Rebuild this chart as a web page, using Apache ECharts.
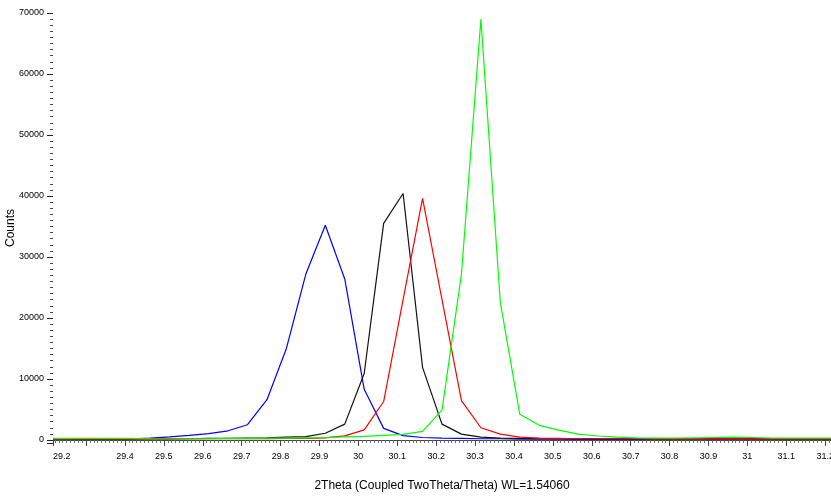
<!DOCTYPE html>
<html>
<head>
<meta charset="utf-8">
<script src="https://cdn.jsdelivr.net/npm/echarts@6/dist/echarts.min.js"></script>
<style>
  html, body { margin: 0; padding: 0; background: #fff; }
  #main { width: 831px; height: 496px; }
</style>
</head>
<body>
<div id="main"></div>
<script>
// 2theta steps (deg)
var twoTheta = [29.215, 29.265, 29.315, 29.365, 29.415, 29.465, 29.515, 29.565, 29.615, 29.665,
	29.715, 29.765, 29.815, 29.865, 29.915, 29.965, 30.015, 30.065, 30.115, 30.165,
	30.215, 30.265, 30.315, 30.365, 30.415, 30.465, 30.515, 30.565, 30.615, 30.665,
	30.715, 30.765, 30.815, 30.865, 30.915, 30.965, 31.015, 31.065, 31.115, 31.165, 31.215];

var blueCounts = [150, 150, 150, 200, 200, 300, 500, 750, 1050, 1500,
	2500, 6600, 15000, 27200, 35200, 26400, 8300, 1900, 700, 400,
	300, 250, 200, 200, 150, 150, 150, 100, 100, 100,
	100, 100, 100, 100, 80, 80, 80, 80, 80, 80, 80];

var blackCounts = [200, 200, 150, 150, 150, 200, 200, 200, 250, 250,
	300, 350, 450, 550, 1100, 2600, 10900, 35500, 40400, 11900,
	2600, 950, 450, 300, 250, 200, 200, 200, 200, 200,
	200, 200, 200, 200, 200, 200, 200, 200, 200, 200, 200];

var redCounts = [150, 150, 150, 150, 150, 150, 150, 200, 200, 200,
	200, 200, 250, 250, 350, 660, 1650, 6300, 23000, 39600,
	23000, 6450, 2000, 950, 450, 300, 250, 200, 200, 200,
	200, 150, 150, 150, 150, 150, 150, 150, 150, 150, 150];

var greenCounts = [250, 250, 250, 250, 250, 200, 200, 200, 200, 250,
	250, 300, 300, 350, 400, 500, 600, 750, 900, 1400,
	4900, 27200, 69000, 22500, 4200, 2400, 1600, 950, 650, 450,
	350, 300, 300, 350, 400, 450, 400, 300, 300, 300, 300];

var lineColors = ['#0000ff', '#111111', '#ff0000', '#00ff00'];

function pairs(ys) {
	return twoTheta.map(function (x, i) { return [x, ys[i]]; });
}

var chart = echarts.init(document.getElementById('main'), null, { renderer: 'canvas' });

var labelFont = { fontFamily: 'Liberation Sans, Arial, sans-serif', fontSize: 9, color: '#000' };
var nameFont = { fontFamily: 'Liberation Sans, Arial, sans-serif', fontSize: 12, color: '#000' };

chart.setOption({
	animation: false,
	backgroundColor: '#fff',
	grid: { left: 53, right: 0, top: 13, bottom: 53, containLabel: false, outerBoundsMode: 'none' },
	xAxis: {
		type: 'value',
		min: 29.215,
		max: 31.215,
		splitNumber: 20,
		name: '2Theta (Coupled TwoTheta/Theta) WL=1.54060',
		nameLocation: 'middle',
		nameGap: 37,
		nameMoveOverlap: false,
		nameTextStyle: nameFont,
		axisLine: { show: true, lineStyle: { color: '#444', width: 1 } },
		axisTick: { show: true, inside: false, length: 6, lineStyle: { color: '#444' } },
		minorTick: { show: true, splitNumber: 10, length: 3, lineStyle: { color: '#666' } },
		splitLine: { show: false },
		axisLabel: Object.assign({
			margin: 9,
			showMaxLabel: false,
			alignMinLabel: 'left',
			formatter: function (v) {
				if (Math.abs(v - 29.3) < 1e-6) return '';
				var s = v.toFixed(1);
				return s.replace(/\.0$/, '');
			}
		}, labelFont)
	},
	yAxis: {
		type: 'value',
		min: -500,
		max: 70000,
		splitNumber: 7,
		name: 'Counts',
		nameLocation: 'middle',
		nameGap: 36,
		nameMoveOverlap: false,
		nameTextStyle: nameFont,
		axisLine: { show: false },
		axisTick: { show: true, length: 6, lineStyle: { color: '#222' } },
		minorTick: { show: true, splitNumber: 10, length: 3, lineStyle: { color: '#444' } },
		splitLine: { show: false },
		axisLabel: Object.assign({
			margin: 9,
			showMinLabel: false,
			formatter: function (v) { return String(Math.round(v)); }
		}, labelFont)
	},
	series: [
		{ type: 'line', data: pairs(blueCounts) },
		{ type: 'line', data: pairs(blackCounts) },
		{ type: 'line', data: pairs(redCounts) },
		{ type: 'line', data: pairs(greenCounts) }
	].map(function (s, i) {
		s.showSymbol = false;
		s.symbol = 'none';
		s.lineStyle = { color: lineColors[i], width: 1.2 };
		s.itemStyle = { color: lineColors[i] };
		return s;
	})
});
</script>
</body>
</html>
